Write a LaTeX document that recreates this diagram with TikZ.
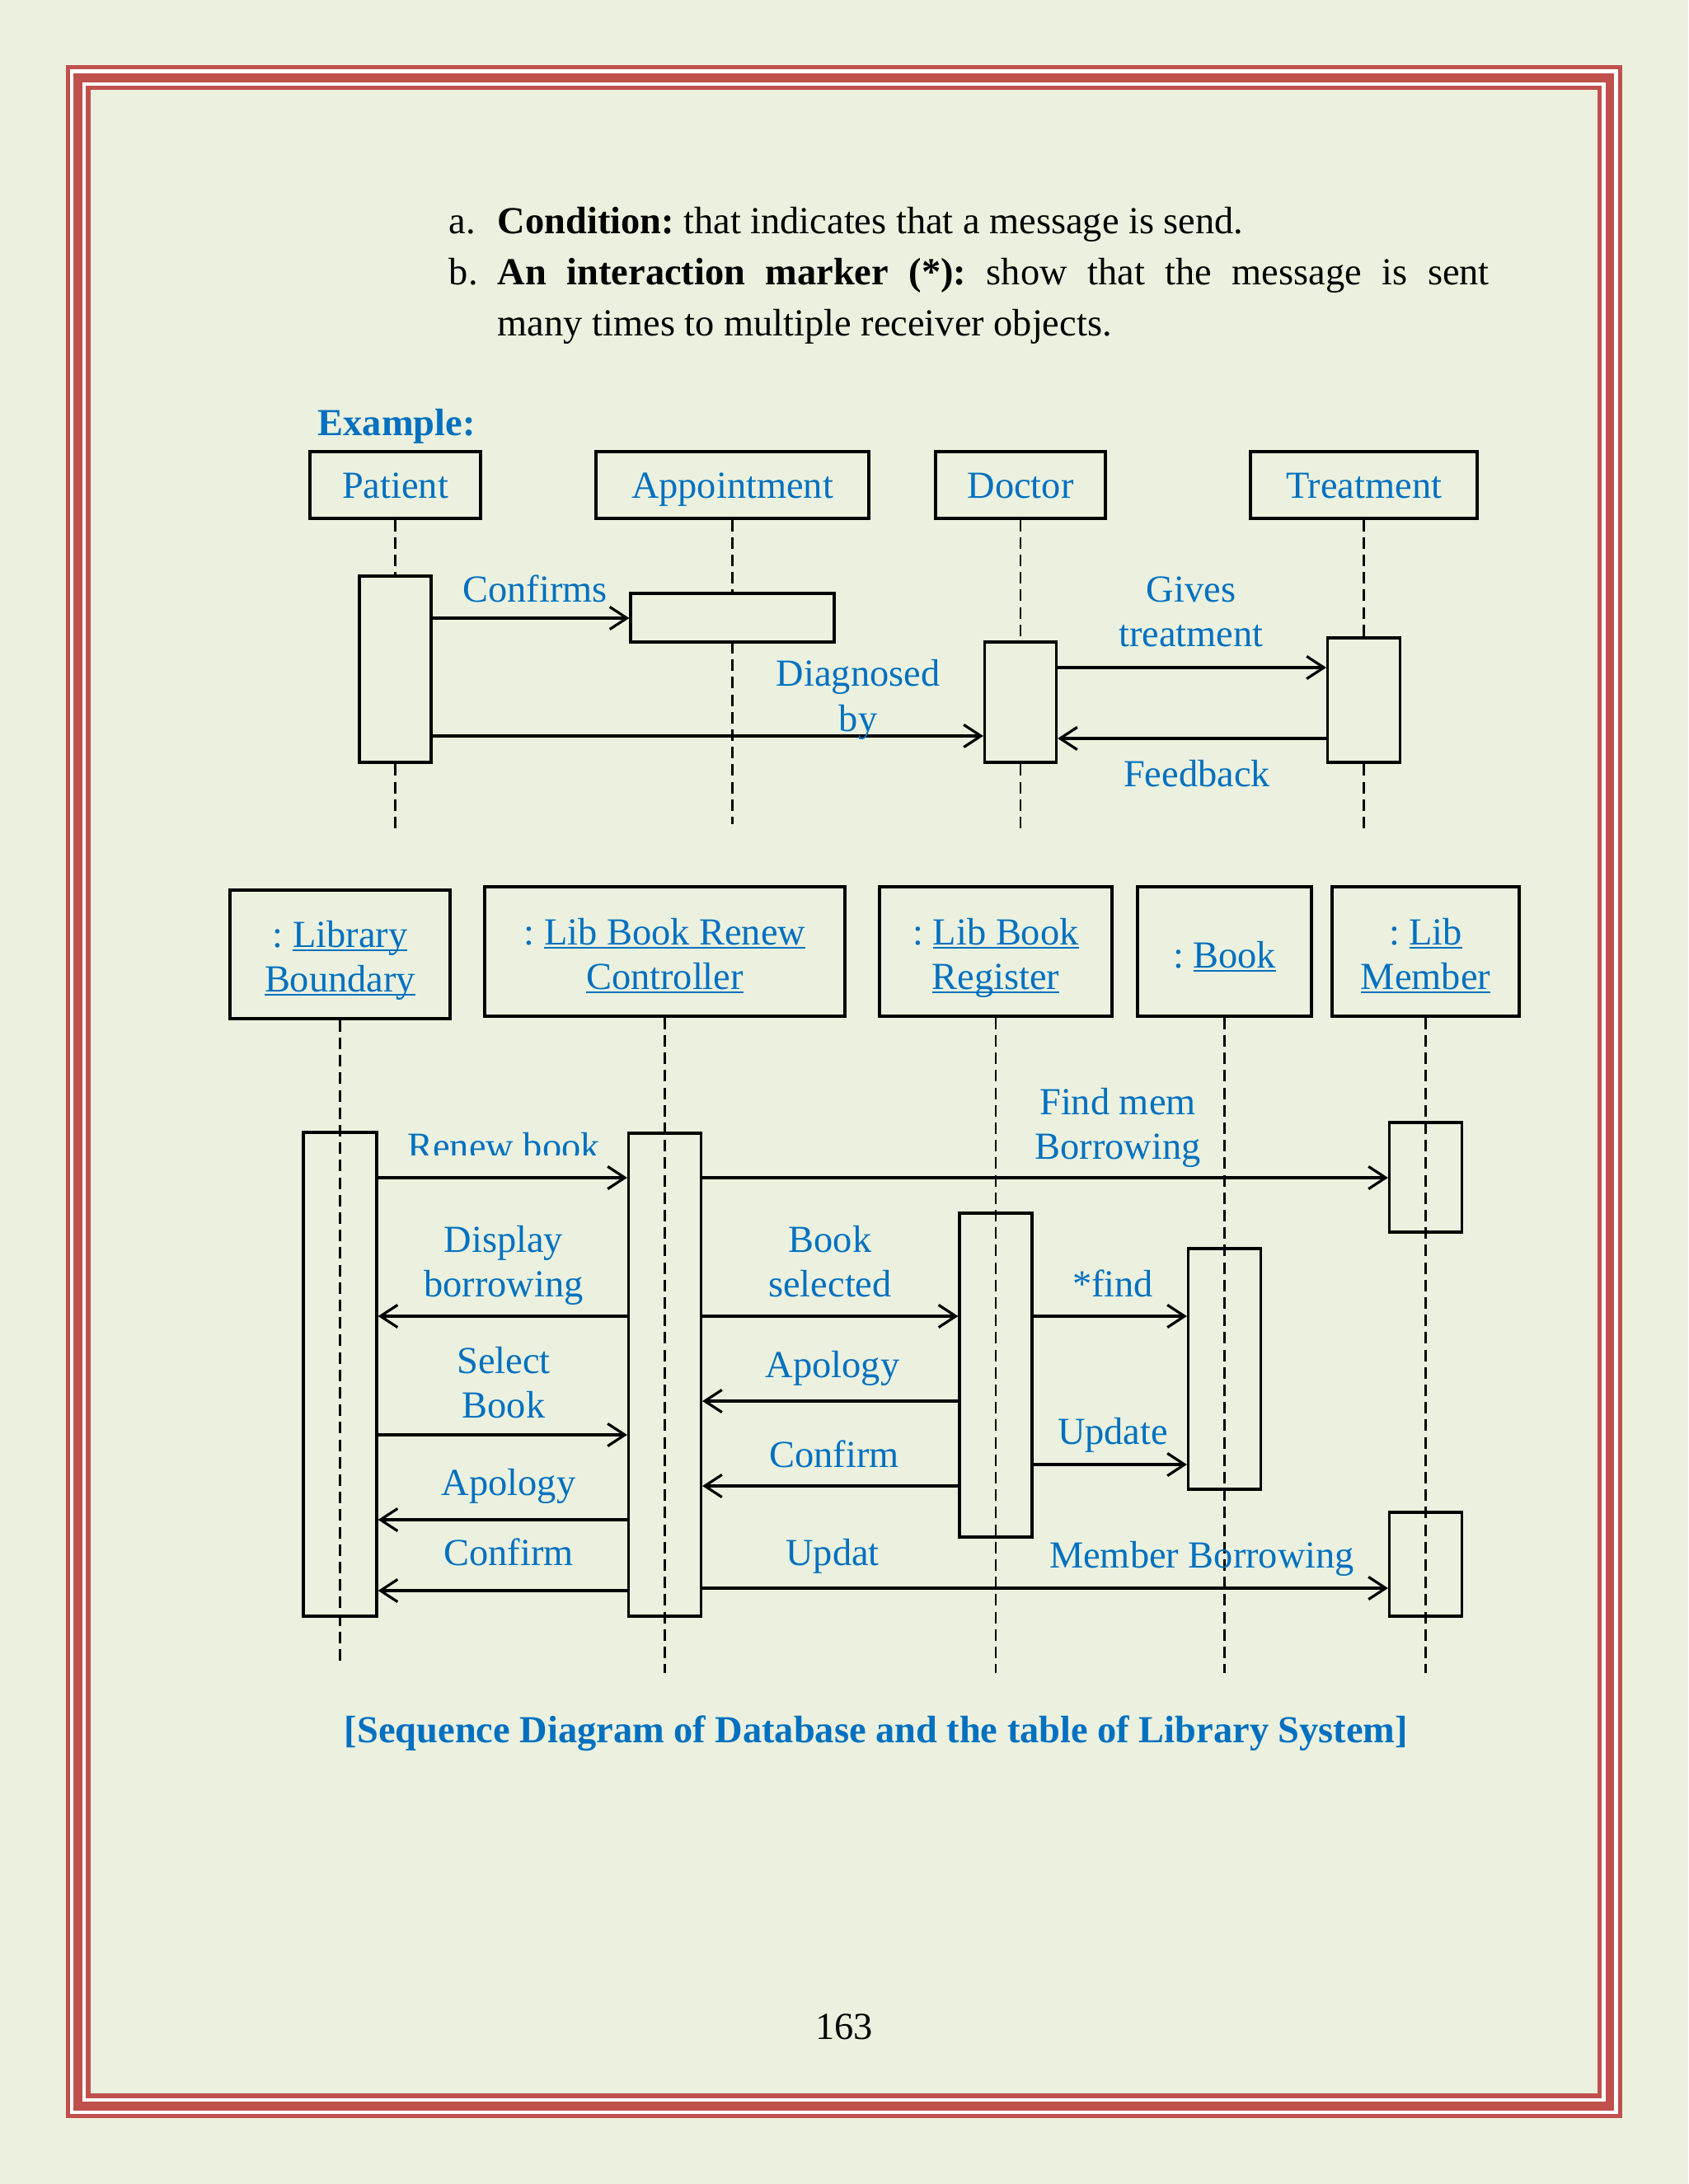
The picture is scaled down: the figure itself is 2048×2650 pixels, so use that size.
\documentclass[tikz,border=0pt]{standalone}
\usepackage{fontspec}
\setmainfont{Liberation Serif}
\usetikzlibrary{arrows.meta,fit}
\definecolor{pagebg}{HTML}{EBF1DE}
\definecolor{bord}{HTML}{C0504D}
\definecolor{txtblue}{HTML}{0070C0}
\frenchspacing
\newcommand\fs{\fontsize{11.6pt}{13.5pt}\selectfont\frenchspacing}
\newcommand\ulword[1]{\setbox0\hbox{#1}\rlap{\rule[-1.3pt]{\wd0}{0.55pt}}\box0}
\newcommand\twoline[2]{\begin{tabular}[t]{@{}c@{}}#1\\#2\end{tabular}}
\tikzset{
  lbl/.style={font=\fs, text=txtblue, inner sep=0pt, anchor=base},
  body/.style={font=\fs, text=black, inner sep=0pt, anchor=base west},
  objbox/.style={draw=black, line width=0.85pt, inner sep=0pt},
  actbox/.style={draw=black, line width=0.8pt, inner sep=0pt},
  life/.style={draw=black, line width=0.6pt, dash pattern=on 3.5pt off 1.8pt},
  msg/.style={draw=black, line width=0.8pt, -{Straight Barb[length=5.2pt,width=6.8pt]}}
}
\begin{document}
\begin{tikzpicture}[x=0.25pt,y=-0.25pt]
\useasboundingbox (0,0) rectangle (2048,2650);
\fill[pagebg] (0,0) rectangle (2048,2650);
% page border
\fill[bord] (80,79) rectangle (1968,2570);
\fill[white] (85,84) rectangle (1963,2565);
\fill[bord] (89,89) rectangle (1958,2561);
\fill[white] (100,100) rectangle (1948,2550);
\fill[bord] (104,104) rectangle (1943,2546);
\fill[pagebg] (109.5,109.5) rectangle (1938,2540);

% body text
\node[body] (ta) at (544,284) {a.};
\node[body] (tat) at (603,284) {\textbf{Condition:} that indicates that a message is send.};
\node[body] (tb) at (544,346) {b.};
\node[body] (tbt) at (603,346) {\makebox[300.75pt][s]{\textbf{An interaction marker (*):} show that the message is sent}};
\node[body] (tc) at (603,408) {many times to multiple receiver objects.};
\node[lbl, anchor=base west, font=\fs\bfseries] (ex) at (385,529) {Example:};

% ---------- diagram 1 ----------
\node[objbox, fit={(376,548) (583,629)}] (pat) {};
\node[objbox, fit={(723,548) (1054,629)}] (app) {};
\node[objbox, fit={(1135,548) (1341,629)}] (doc) {};
\node[objbox, fit={(1517,548) (1792,629)}] (tre) {};
\node[lbl] (patT) at (479.5,605) {Patient};
\node[lbl] (appT) at (888.5,605) {Appointment};
\node[lbl] (docT) at (1238,605) {Doctor};
\node[lbl] (treT) at (1654.5,605) {Treatment};

\draw[life] (pat.south) -- (pat.south |- 0,1005);
\draw[life] (app.south) -- (app.south |- 0,1000);
\draw[life] (doc.south) -- (doc.south |- 0,1005);
\draw[life] (tre.south) -- (tre.south |- 0,1005);

\node[actbox, fill=pagebg, fit={(436,699) (523,925)}] (pa) {};
\node[actbox, fill=pagebg, fit={(765,720) (1012,779)}] (apa) {};
\node[actbox, fill=pagebg, fit={(1194.5,779) (1281.5,925)}] (da) {};
\node[actbox, fill=pagebg, fit={(1610.5,774) (1698.5,925)}] (tra) {};

\draw[msg] (pa.east |- 0,750) -- (apa.west |- 0,750);
\draw[msg] (pa.east |- 0,893) -- (da.west |- 0,893);
\draw[msg] (da.east |- 0,810) -- (tra.west |- 0,810);
\draw[msg] (tra.west |- 0,896) -- (da.east |- 0,896);

\node[lbl] (l1) at (649,731) {Confirms};
\node[lbl] (l2) at (1041,833) {\twoline{Diagnosed}{by}};
\node[lbl] (l3) at (1445,731) {\twoline{Gives}{treatment}};
\node[lbl] (l4) at (1452,955) {Feedback};

% ---------- diagram 2 ----------
\node[objbox, fit={(279,1080) (546,1236)}] (lb) {};
\node[objbox, fit={(588,1076) (1025,1233)}] (cb) {};
\node[objbox, fit={(1067,1076) (1349,1233)}] (rb) {};
\node[objbox, fit={(1380,1076) (1591,1233)}] (bb) {};
\node[objbox, fit={(1616,1076) (1843,1233)}] (mb) {};
\node[lbl] (lbT) at (412.5,1149) {\twoline{: \ulword{Library}}{\ulword{Boundary}}};
\node[lbl] (cbT) at (806.5,1146) {\twoline{: \ulword{Lib Book Renew}}{\ulword{Controller}}};
\node[lbl] (rbT) at (1208,1146) {\twoline{: \ulword{Lib Book}}{\ulword{Register}}};
\node[lbl] (bbT) at (1485.5,1174) {: \ulword{Book}};
\node[lbl] (mbT) at (1729.5,1146) {\twoline{: \ulword{Lib}}{\ulword{Member}}};

\node[actbox, fit={(368,1374) (457,1961)}] (la) {};
\node[actbox, fit={(762.5,1375) (850.5,1961)}] (ca) {};
\node[actbox, fit={(1164,1472) (1252,1865)}] (ra) {};
\node[actbox, fit={(1441.5,1515) (1529.5,1807)}] (ba) {};
\node[actbox, fit={(1685.5,1362) (1773.5,1495)}] (ma1) {};
\node[actbox, fit={(1685.5,1835) (1773.5,1961)}] (ma2) {};

\draw[life] (lb.south) -- (lb.south |- 0,2015);
\draw[life] (cb.south) -- (cb.south |- 0,2030);
\draw[life] (rb.south) -- (rb.south |- 0,2030);
\draw[life] (bb.south) -- (bb.south |- 0,2030);
\draw[life] (mb.south) -- (mb.south |- 0,2030);

\draw[msg] (la.east |- 0,1429) -- (ca.west |- 0,1429);
\draw[msg] (ca.east |- 0,1429) -- (ma1.west |- 0,1429);
\draw[msg] (ca.west |- 0,1597) -- (la.east |- 0,1597);
\draw[msg] (ca.east |- 0,1597) -- (ra.west |- 0,1597);
\draw[msg] (ra.east |- 0,1597) -- (ba.west |- 0,1597);
\draw[msg] (ra.west |- 0,1700) -- (ca.east |- 0,1700);
\draw[msg] (la.east |- 0,1741) -- (ca.west |- 0,1741);
\draw[msg] (ra.east |- 0,1777) -- (ba.west |- 0,1777);
\draw[msg] (ra.west |- 0,1803) -- (ca.east |- 0,1803);
\draw[msg] (ca.west |- 0,1844) -- (la.east |- 0,1844);
\draw[msg] (ca.west |- 0,1930) -- (la.east |- 0,1930);
\draw[msg] (ca.east |- 0,1927) -- (ma2.west |- 0,1927);

\begin{scope}
\clip (470,1340) rectangle (750,1401.5);
\node[lbl] (m1) at (611,1406) {Renew book};
\end{scope}
\node[lbl] (m2) at (1356,1352) {\twoline{Find mem}{Borrowing}};
\node[lbl] (m3) at (611,1519) {\twoline{Display}{borrowing}};
\node[lbl] (m4) at (1007,1519) {\twoline{Book}{selected}};
\node[lbl] (m5) at (1350,1573) {*find};
\node[lbl] (m6) at (1010,1671) {Apology};
\node[lbl] (m7) at (611,1666) {\twoline{Select}{Book}};
\node[lbl] (m8) at (1350,1752) {Update};
\node[lbl] (m9) at (1012,1780) {Confirm};
\node[lbl] (m10) at (617,1814) {Apology};
\node[lbl] (m11) at (617,1899) {Confirm};
\node[lbl] (m12) at (1010,1899) {Updat};
\node[lbl] (m13) at (1458,1902) {Member Borrowing};

\node[lbl, font=\fs\bfseries] (cap) at (1063,2114) {[Sequence Diagram of Database and the table of Library System]};
\node[body, anchor=base] (pg) at (1024,2474) {163};
\end{tikzpicture}
\end{document}
